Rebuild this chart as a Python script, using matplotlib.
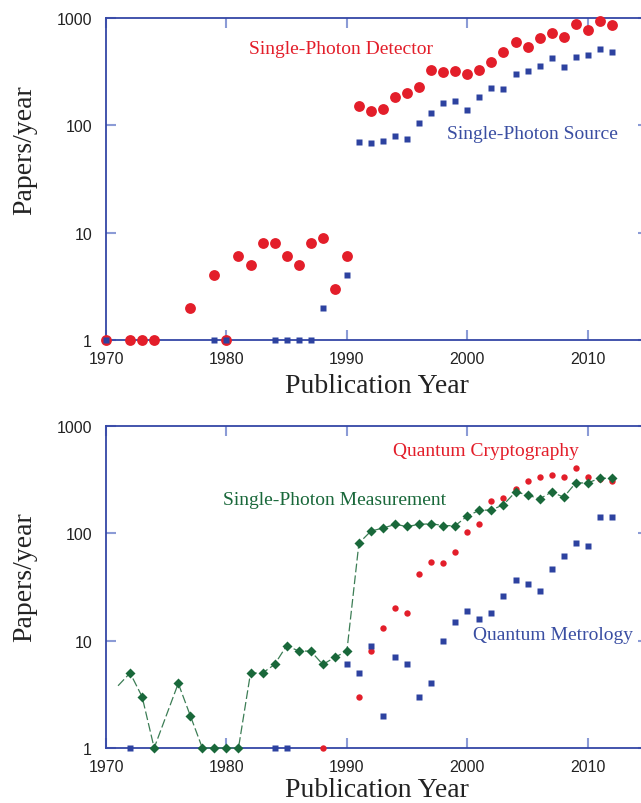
import numpy as np
import matplotlib
matplotlib.use("Agg")
import matplotlib.pyplot as plt

# top panel: single-photon detector / source
det_years = [1970, 1972, 1973, 1974, 1977, 1979, 1980, 1981, 1982, 1983, 1984, 1985,
             1986, 1987, 1988, 1989, 1990, 1991, 1992, 1993, 1994, 1995, 1996, 1997,
             1998, 1999, 2000, 2001, 2002, 2003, 2004, 2005, 2006, 2007, 2008, 2009,
             2010, 2011, 2012]
det_vals = [1, 1, 1, 1, 2, 4, 1, 6, 5, 8, 8, 6,
            5, 8, 9, 3, 6, 150, 135, 142, 183, 198, 228, 326,
            311, 318, 300, 326, 385, 481, 601, 532, 655, 729, 660, 873,
            778, 931, 860]

src_years = [1970, 1979, 1980, 1984, 1985, 1986, 1987, 1988, 1990, 1991, 1992, 1993,
             1994, 1995, 1996, 1997, 1998, 1999, 2000, 2001, 2002, 2003, 2004, 2005,
             2006, 2007, 2008, 2009, 2010, 2011, 2012]
src_vals = [1, 1, 1, 1, 1, 1, 1, 2, 4, 70, 68, 71,
            79, 75, 105, 130, 162, 168, 139, 183, 222, 218, 300, 324,
            356, 426, 351, 435, 454, 517, 481]

# bottom panel: cryptography / metrology / measurement
cry_years = [1988, 1991, 1992, 1993, 1994, 1995, 1996, 1997, 1998, 1999, 2000, 2001,
             2002, 2003, 2004, 2005, 2006, 2007, 2008, 2009, 2010, 2011, 2012]
cry_vals = [1, 3, 8, 13, 20, 18, 42, 54, 53, 67, 104, 122,
            200, 212, 259, 306, 334, 350, 336, 410, 334, 319, 306]

met_years = [1972, 1984, 1985, 1990, 1991, 1992, 1993, 1994, 1995, 1996, 1997, 1998,
             1999, 2000, 2001, 2002, 2003, 2004, 2005, 2006, 2007, 2008, 2009, 2010,
             2011, 2012]
met_vals = [1, 1, 1, 6, 5, 9, 2, 7, 6, 3, 4, 10,
            15, 19, 16, 18, 26, 37, 34, 29, 47, 61, 81, 76,
            142, 142]

mea_years = [1971, 1972, 1973, 1974, 1976, 1977, 1978, 1979, 1980, 1981, 1982, 1983,
             1984, 1985, 1986, 1987, 1988, 1989, 1990, 1991, 1992, 1993, 1994, 1995,
             1996, 1997, 1998, 1999, 2000, 2001, 2002, 2003, 2004, 2005, 2006, 2007,
             2008, 2009, 2010, 2011, 2012]
mea_vals = [3.8, 5, 3, 1, 4, 2, 1, 1, 1, 1, 5, 5,
            6, 9, 8, 8, 6, 7, 8, 81, 105, 112, 121, 116,
            121, 123, 118, 118, 145, 164, 165, 185, 243, 228, 209, 243,
            217, 295, 295, 326, 326]

RED = '#e31e2a'
BLUE = '#2d42a0'
GREEN = '#19683a'
SPINE = '#3446a6'
TICK = '#8b9bd6'

W, H = 641, 804
fig = plt.figure(figsize=(W / 100, H / 100), dpi=100)

def px_axes(top, bottom):
    left, right = 106, 648
    return fig.add_axes([left / W, 1 - bottom / H, (right - left) / W, (bottom - top) / H])

def style(ax, labelpad):
    ax.set_yscale('log')
    ax.set_xlim(1970, 2015)
    ax.set_ylim(1, 1000)
    ax.set_xticks([1970, 1980, 1990, 2000, 2010])
    ax.set_yticks([1, 10, 100, 1000])
    ax.set_yticklabels(['1', '10', '100', '1000'])
    ax.yaxis.set_minor_locator(matplotlib.ticker.NullLocator())
    ax.tick_params(direction='in', length=7, width=1.5, color=TICK,
                   top=True, right=True, labelsize=11.5, labelcolor='#222222')
    ax.tick_params(axis='y', pad=10)
    ax.tick_params(axis='x', pad=8)
    for lab in ax.get_xticklabels() + ax.get_yticklabels():
        lab.set_family('Liberation Sans')
    for sp in ax.spines.values():
        sp.set_color(SPINE)
        sp.set_linewidth(1.3)
    ax.set_xlabel('Publication Year', family='Liberation Serif', fontsize=20,
                  color='#222222', labelpad=labelpad)

serif = 'Liberation Serif'

ax1 = px_axes(19, 341)
style(ax1, 5)
ax1.plot(det_years, det_vals, 'o', color=RED, ms=7.8, mec='none', clip_on=False, zorder=3)
ax1.plot(src_years, src_vals, 's', color=BLUE, ms=4.4, mec='none', clip_on=False, zorder=4)
ax1.text(249, 50, 'Single-Photon Detector', transform=None, fontsize=14,
         family=serif, color=RED, va='center')
ax1.text(447, 135, 'Single-Photon Source', transform=None, fontsize=14,
         family=serif, color='#3a4ea2', va='center')

ax2 = px_axes(427, 749)
style(ax2, 2)
ax2.plot(cry_years, cry_vals, 'o', color=RED, ms=4.6, mec='none', clip_on=False, zorder=3)
ax2.plot(met_years, met_vals, 's', color=BLUE, ms=4.8, mec='none', clip_on=False, zorder=4)
ax2.plot(mea_years, mea_vals, color='#3c7d55', lw=0.9, dashes=(7, 2.5), zorder=4,
         clip_on=False)
ax2.plot(mea_years[1:], mea_vals[1:], 'D', color=GREEN, ms=5.2, mec='none',
         clip_on=False, zorder=5)
ax2.text(393, 452, 'Quantum Cryptography', transform=None, fontsize=14,
         family=serif, color=RED, va='center')
ax2.text(223, 501, 'Single-Photon Measurement', transform=None, fontsize=14,
         family=serif, color=GREEN, va='center')
ax2.text(473, 636, 'Quantum Metrology', transform=None, fontsize=14,
         family=serif, color='#3a4ea2', va='center')

# text with transform=None uses display pixels from bottom-left
for t in ax1.texts + ax2.texts:
    x, y = t.get_position()
    t.set_position((x, H - y))

fig.text(25 / W, 1 - 150 / H, 'Papers/year', rotation=90, ha='center', va='center',
         family=serif, fontsize=20, color='#222222')
fig.text(25 / W, 1 - 577 / H, 'Papers/year', rotation=90, ha='center', va='center',
         family=serif, fontsize=20, color='#222222')

fig.savefig('out.png', dpi=100)
